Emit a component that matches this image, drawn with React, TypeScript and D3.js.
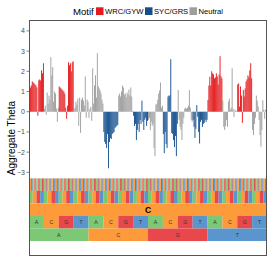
import React from "react";
import * as d3 from "d3";

// ---- data ----
const nucleotides = ["A", "C", "G", "T"];
const centerBase = "C";
const motifNames = ["WRC/GYW", "SYC/GRS", "Neutral"];
const motifColors = ["#E41A1C", "#134F8D", "#9E9E9E"];
const nucleotideColors = ["#7DC874", "#FD9A3A", "#E8474B", "#5B95CE"];
const yTicks = [-3, -2, -1, 0, 1, 2, 3, 4];

// aggregate theta, one value per 5-mer (pos1 slowest ... pos5 fastest), center = C
const thetaValues = [
  1.25, 1.2, 1.3, 1.5, 1.45, 1.4, 1.35, 1.3, 1.2, -0.2, 1.55, 1.6, 1.55, 2.05, 1.9, 2.4,
  0.15, 0.3, -0.15, 0.95, 0.4, 0.8, 0.6, 2.7, 1.8, 2.2, 0.5, 1.0, 0.9, 0.15, -0.5, 0.2,
  1.25, 1.2, 1.15, 1.1, 1.05, 1.0, 0.9, 0.2, -0.35, 0.3, 2.45, 2.3, 2.4, 2.0, 2.45, 2.5,
  0.15, 0.2, 0.5, 0.35, 0.65, -0.7, 0.7, -1.05, 0.6, 0.7, 0.55, 0.3, 1.75, -0.3, 0.6, 0.5,
  -0.3, 0.15, 0.25, -0.45, 2.15, 0.4, 1.3, 1.8, 0.7, 2.9, 1.25, 1.15, 1.05, 0.9, 0.6, 0.4,
  -1.0, -1.5, -1.6, -1.8, -1.1, -2.8, -1.5, -1.3, -1.35, -1.1, -1.05, -1.0, -0.8, -0.75, -0.7, -0.65,
  0.8, 0.9, 0.75, 1.0, 1.3, 1.2, 0.85, 0.9, 0.7, 0.95, 0.85, 1.1, 0.8, 1.2, 0.75, 0.05,
  -0.2, -0.7, -0.6, -1.4, -0.9, -0.6, -1.0, -0.4, -0.6, 0.55, -0.5, -0.9, -0.4, -0.3, -0.7, -0.45,
  -0.4, -0.3, -0.9, -0.5, -0.7, -0.6, -1.8, -2.2, 0.35, 0.4, 0.6, 0.9, 1.05, 1.45, 0.2, 0.3,
  -1.1, -2.05, -1.0, -1.6, -1.8, 0.75, 0.8, 0.8, 2.6, -1.05, -1.1, -1.4, -1.75, -1.2, -2.2, -0.6,
  1.07, -0.4, -0.75, -0.9, -1.4, -0.6, -0.3, 0.15, 0.2, 0.15, 0.2, 0.3, 1.07, 0.2, -0.4, -0.5,
  -0.4, -0.75, -1.3, -0.85, 0.33, -0.25, -1.0, -1.57, -0.5, -0.4, -0.75, -0.6, -0.55, -0.4, -0.5, -0.4,
  0.58, 1.3, 1.73, 1.3, 2.0, 1.9, 1.85, 1.65, 1.7, 1.9, 1.75, 1.35, 1.85, 2.75, 1.75, 1.65,
  0.55, -0.75, -0.9, -0.7, -0.4, -0.75, 0.5, 0.65, 0.1, 0.2, 2.15, 0.15, -0.25, 0.1, 0.05, 0.05,
  1.35, 1.4, 0.25, 1.25, 0.8, -0.55, 1.07, 0.75, 1.15, 1.5, 1.6, 1.8, 1.7, 2.05, 2.4, 1.65,
  -0.9, -1.15, -0.6, -0.3, 0.8, 0.55, 0.25, -0.4, -1.15, -1.73, -0.9, 0.57, 0.1, -0.35, 0.1, 0.15,
];

const kmers = thetaValues.map(
  (_, i) =>
    nucleotides[(i >> 6) & 3] +
    nucleotides[(i >> 4) & 3] +
    centerBase +
    nucleotides[(i >> 2) & 3] +
    nucleotides[i & 3]
);

function motifOf(k: string): string {
  if (/^[AT][AG]C/.test(k)) return motifNames[0];
  if (/^[CG][CT]C/.test(k)) return motifNames[1];
  return motifNames[2];
}

// ---- layout ----
const W = 274;
const H = 274;
const panel = { left: 29, right: 267, top: 20, bottom: 256 };
const FONT = "'Liberation Sans', Arial, Helvetica, sans-serif";

export default function App() {
  const x = d3.scaleBand<string>().domain(kmers).range([panel.left, panel.right]).padding(0);
  const y = d3.scaleLinear().domain([-7.14, 4.54]).range([panel.bottom, panel.top]);
  const color = d3.scaleOrdinal<string, string>().domain(motifNames).range(motifColors);
  const ntColor = d3.scaleOrdinal<string, string>().domain(nucleotides).range(nucleotideColors);

  // tile layers: [n tiles, top (data units)], from top to bottom
  const layerH = 0.62;
  const layers = [
    { n: 256, top: -3.3, label: (i: number) => nucleotides[i & 3], text: false, bold: false },
    { n: 64, top: -3.3 - layerH, label: (i: number) => nucleotides[i & 3], text: false, bold: false },
    { n: 1, top: -3.3 - 2 * layerH, label: () => centerBase, text: true, bold: true },
    { n: 16, top: -3.3 - 3 * layerH, label: (i: number) => nucleotides[i & 3], text: true, bold: false },
    { n: 4, top: -3.3 - 4 * layerH, label: (i: number) => nucleotides[i & 3], text: true, bold: false },
  ];

  const y0 = y(0);

  return (
    <svg
      width={W}
      height={H}
      style={{ position: "absolute", left: 0, top: 0, background: "#fff" }}
      fontFamily={FONT}
    >
      {/* legend */}
      <g>
        <text x={73} y={14.5} fontSize={9.6} fill="#000">Motif</text>
        {motifNames.map((m, i) => {
          const kx = [96, 145, 189.5][i];
          return (
            <g key={m}>
              <rect x={kx} y={7.3} width={7.5} height={7.7} fill={color(m)} />
              <text x={kx + 9} y={14} fontSize={7.6} fill="#000">{m}</text>
            </g>
          );
        })}
      </g>

      {/* bars */}
      <g>
        {kmers.map((k, i) => {
          const v = thetaValues[i];
          const yy = y(v);
          return (
            <rect
              key={k}
              x={x(k)}
              width={x.bandwidth()}
              y={Math.min(yy, y0)}
              height={Math.abs(yy - y0)}
              fill={color(motifOf(k))}
            />
          );
        })}
      </g>

      {/* nucleotide tiles */}
      <g>
        {layers.map((L, li) => {
          const b = d3
            .scaleBand<number>()
            .domain(d3.range(L.n))
            .range([panel.left, panel.right])
            .padding(0);
          const top = y(L.top);
          const h = y(L.top - layerH) - top;
          return (
            <g key={li}>
              {d3.range(L.n).map((i) => {
                const lab = L.label(i);
                return (
                  <g key={i}>
                    <rect x={b(i)} y={top} width={b.bandwidth() + 0.05} height={h} fill={ntColor(lab)} />
                    {L.text && (
                      <text
                        x={(b(i) as number) + b.bandwidth() / 2}
                        y={top + h / 2}
                        dy="0.35em"
                        textAnchor="middle"
                        fontSize={L.bold ? 8.5 : 5.2}
                        fontWeight={L.bold ? "bold" : "normal"}
                        fill={L.bold ? "#000" : "#333"}
                      >
                        {lab}
                      </text>
                    )}
                  </g>
                );
              })}
            </g>
          );
        })}
      </g>

      {/* panel border */}
      <rect
        x={panel.left + 0.5}
        y={panel.top + 0.5}
        width={panel.right - panel.left - 1}
        height={panel.bottom - panel.top - 1}
        fill="none"
        stroke="#555"
        strokeWidth={1}
      />

      {/* y axis */}
      <g>
        {yTicks.map((t) => (
          <g key={t}>
            <line x1={26.5} x2={29} y1={y(t)} y2={y(t)} stroke="#333" strokeWidth={0.6} />
            <text x={25} y={y(t)} dy="0.35em" textAnchor="end" fontSize={7} fill="#4D4D4D">
              {t < 0 ? "\u2212" + Math.abs(t) : String(t)}
            </text>
          </g>
        ))}
        <text
          transform={`translate(15,${(panel.top + panel.bottom) / 2}) rotate(-90)`}
          textAnchor="middle"
          fontSize={10}
          fill="#000"
        >
          Aggregate Theta
        </text>
      </g>
    </svg>
  );
}
